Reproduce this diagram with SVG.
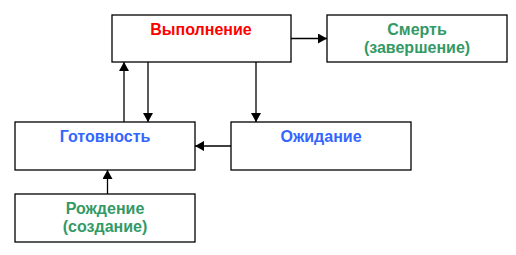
<svg xmlns="http://www.w3.org/2000/svg" width="516" height="255" viewBox="0 0 516 255">
<style>
.box{fill:#fff;stroke:#000;stroke-width:1.3}
.t{font-family:"Liberation Sans",Arial,sans-serif;font-weight:bold;font-size:16px;text-anchor:middle}
.red{fill:#ff0000}.grn{fill:#339966}.blu{fill:#3366ff}
.c{stroke:#000;stroke-width:1.3;fill:none;marker-end:url(#ah)}
</style>
<defs>
<marker id="ah" markerWidth="11" markerHeight="11" refX="9" refY="5" orient="auto" markerUnits="userSpaceOnUse">
<path d="M0,0 L9,5 L0,10 Z" fill="#000"/>
</marker>
</defs>
<rect width="516" height="255" fill="#fff"/>
<g id="connectors">
<line class="c" x1="124" y1="122" x2="124" y2="62"/>
<line class="c" x1="148" y1="62" x2="148" y2="122"/>
<line class="c" x1="256" y1="62" x2="256" y2="122"/>
<line class="c" x1="291" y1="38.5" x2="327" y2="38.5"/>
<line class="c" x1="231" y1="146" x2="195" y2="146"/>
<line class="c" x1="107.5" y1="194" x2="107.5" y2="170"/>
</g>
<g id="run"><rect class="box" x="112" y="15" width="179" height="47"/><text class="t red" x="201" y="35">Выполнение</text></g>
<g id="death"><rect class="box" x="327" y="15" width="180" height="47"/><text class="t grn" x="417" y="35">Смерть</text><text class="t grn" x="417" y="53">(завершение)</text></g>
<g id="ready"><rect class="box" x="15" y="122" width="180" height="48"/><text class="t blu" x="105" y="142">Готовность</text></g>
<g id="wait"><rect class="box" x="231" y="122" width="180" height="48"/><text class="t blu" x="321" y="142">Ожидание</text></g>
<g id="birth"><rect class="box" x="15" y="194" width="180" height="48"/><text class="t grn" x="105" y="214">Рождение</text><text class="t grn" x="105" y="232">(создание)</text></g>
</svg>
